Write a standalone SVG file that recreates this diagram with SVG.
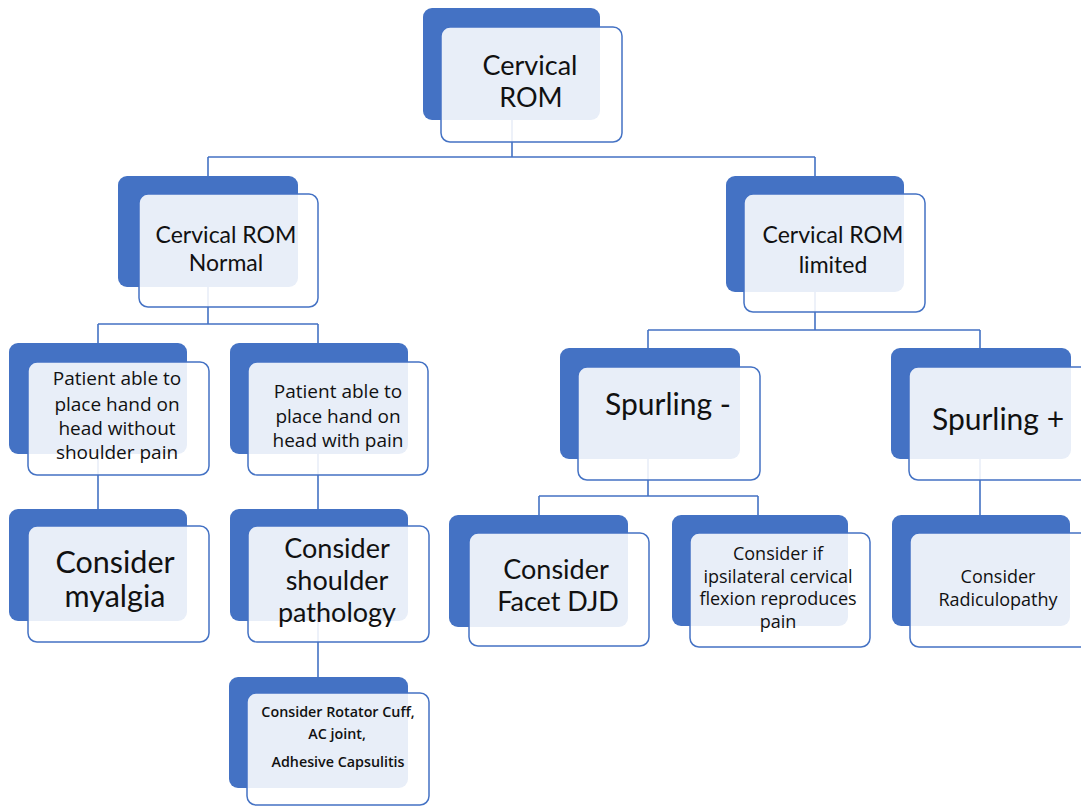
<svg xmlns="http://www.w3.org/2000/svg" width="1081" height="807" viewBox="0 0 1081 807">
<style>
.bk{fill:#4472C4}
.fr{fill:#fff;fill-opacity:0.88;stroke:#4472C4;stroke-width:1.5}
.c{fill:none;stroke:#4472C4;stroke-width:1.6}
.t{font-family:Lato,"Open Sans",sans-serif;fill:#111;text-anchor:middle}
.s{font-family:"Open Sans","Noto Sans",sans-serif;fill:#111;text-anchor:middle}
</style>
<rect width="1081" height="807" fill="#fff"/>
<g id="connectors" class="c">
<path d="M512 100V157M208 157H815M208 157V324M815 157V330"/>
<path d="M98 324H318M98 324V509M318 324V677"/>
<path d="M648 330H980M648 330V496M980 330V515"/>
<path d="M539 496H758M539 496V515M758 496V515"/>
</g>
<g id="n-root">
<rect class="bk" x="423" y="8" width="177" height="112" rx="9"/>
<rect class="fr" x="441" y="27" width="181" height="115" rx="9"/>
<text class="t" x="530" y="75" font-size="27">Cervical</text>
<text class="t" x="531" y="107" font-size="27">ROM</text>
</g>
<g id="n-normal">
<rect class="bk" x="118" y="176" width="180" height="111" rx="9"/>
<rect class="fr" x="139" y="194" width="179" height="113" rx="9"/>
<text class="t" x="226" y="243" font-size="23">Cervical ROM</text>
<text class="t" x="226" y="271" font-size="23">Normal</text>
</g>
<g id="n-limited">
<rect class="bk" x="726" y="176" width="178" height="116" rx="9"/>
<rect class="fr" x="744" y="194" width="181" height="118" rx="9"/>
<text class="t" x="833" y="243" font-size="23">Cervical ROM</text>
<text class="t" x="833" y="273" font-size="23">limited</text>
</g>
<g id="n-nopain">
<rect class="bk" x="9" y="343" width="178" height="111" rx="9"/>
<rect class="fr" x="28" y="362" width="181" height="113" rx="9"/>
<text class="s" x="117" y="385" font-size="19">Patient able to</text>
<text class="s" x="117" y="411" font-size="19">place hand on</text>
<text class="s" x="117" y="435" font-size="19">head without</text>
<text class="s" x="117" y="459" font-size="19">shoulder pain</text>
</g>
<g id="n-pain">
<rect class="bk" x="230" y="343" width="178" height="111" rx="9"/>
<rect class="fr" x="248" y="362" width="180" height="113" rx="9"/>
<text class="s" x="338" y="398" font-size="19">Patient able to</text>
<text class="s" x="338" y="423" font-size="19">place hand on</text>
<text class="s" x="338" y="447" font-size="19">head with pain</text>
</g>
<g id="n-spneg">
<rect class="bk" x="560" y="348" width="180" height="111" rx="9"/>
<rect class="fr" x="578" y="367" width="182" height="113" rx="9"/>
<text class="t" x="668" y="415" font-size="30">Spurling -</text>
</g>
<g id="n-sppos">
<rect class="bk" x="891" y="348" width="180" height="111" rx="9"/>
<rect class="fr" x="909" y="367" width="190" height="113" rx="9"/>
<text class="t" x="998" y="430" font-size="30">Spurling +</text>
</g>
<g id="n-myalgia">
<rect class="bk" x="9" y="509" width="178" height="112" rx="9"/>
<rect class="fr" x="28" y="526" width="181" height="116" rx="9"/>
<text class="t" x="115" y="573" font-size="30.5">Consider</text>
<text class="t" x="115" y="607" font-size="30.5">myalgia</text>
</g>
<g id="n-shoulder">
<rect class="bk" x="230" y="509" width="178" height="112" rx="9"/>
<rect class="fr" x="248" y="526" width="181" height="116" rx="9"/>
<text class="t" x="337" y="558" font-size="27">Consider</text>
<text class="t" x="337" y="590" font-size="27">shoulder</text>
<text class="t" x="337" y="622" font-size="27">pathology</text>
</g>
<g id="n-rotator">
<rect class="bk" x="229" y="677" width="179" height="111" rx="9"/>
<rect class="fr" x="247" y="693" width="182" height="112" rx="9"/>
<text class="s" x="338" y="717" font-size="14.3" font-weight="600">Consider Rotator Cuff,</text>
<text class="s" x="337" y="739" font-size="14.3" font-weight="600">AC joint,</text>
<text class="s" x="338" y="767" font-size="14.3" font-weight="600">Adhesive Capsulitis</text>
</g>
<g id="n-facet">
<rect class="bk" x="449" y="515" width="179" height="112" rx="9"/>
<rect class="fr" x="469" y="533" width="180" height="113" rx="9"/>
<text class="t" x="556" y="579" font-size="27">Consider</text>
<text class="t" x="558" y="611" font-size="27">Facet DJD</text>
</g>
<g id="n-ipsi">
<rect class="bk" x="672" y="515" width="176" height="111" rx="9"/>
<rect class="fr" x="690" y="533" width="180" height="114" rx="9"/>
<text class="s" x="778" y="560" font-size="18">Consider if</text>
<text class="s" x="778" y="583" font-size="18">ipsilateral cervical</text>
<text class="s" x="778" y="605" font-size="18">flexion reproduces</text>
<text class="s" x="778" y="628" font-size="18">pain</text>
</g>
<g id="n-radic">
<rect class="bk" x="892" y="515" width="178" height="111" rx="9"/>
<rect class="fr" x="910" y="533" width="190" height="114" rx="9"/>
<text class="s" x="998" y="583" font-size="18">Consider</text>
<text class="s" x="998" y="606" font-size="18">Radiculopathy</text>
</g>
</svg>
